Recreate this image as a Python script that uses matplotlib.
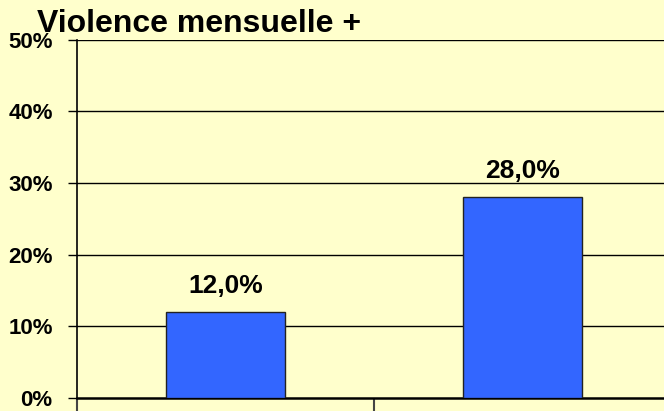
import matplotlib
matplotlib.use("Agg")
import matplotlib.pyplot as plt
from matplotlib.ticker import FuncFormatter

# chart data
categories = ["Groupe 1", "Groupe 2"]
values = [12.0, 28.0]
y_ticks = [0, 10, 20, 30, 40, 50]
title = "Violence mensuelle +"

bg = "#FFFFCC"
bar_color = "#3366FF"
font = ["Liberation Sans", "DejaVu Sans"]

fig = plt.figure(figsize=(6.64, 4.11), dpi=100, facecolor=bg)
ax = fig.add_axes([0.116, 0.0316, 0.8946, 0.872], facecolor=bg)

x = list(range(len(categories)))
ax.bar(x, values, width=0.40, color=bar_color, edgecolor="#222222", linewidth=1, zorder=3)

# grid lines
for t in y_ticks[1:]:
    ax.axhline(t, color="black", linewidth=1, zorder=1)

ax.set_xlim(-0.5, len(categories) - 0.5)
ax.set_ylim(0, 50)
ax.set_yticks(y_ticks)
ax.yaxis.set_major_formatter(FuncFormatter(lambda v, p: f"{v:.0f}%"))
for lab in ax.get_yticklabels():
    lab.set_family(font)
    lab.set_fontweight("bold")
    lab.set_fontsize(16)
ax.tick_params(axis="y", direction="out", length=6.5, width=1, pad=11)

ax.set_xticks([i - 0.5 for i in range(len(categories) + 1)])
ax.set_xticklabels([])
ax.tick_params(axis="x", direction="out", length=10, width=1.5, color="#444444")

for s in ["top", "right"]:
    ax.spines[s].set_visible(False)
ax.spines["left"].set_linewidth(1.2)
ax.spines["bottom"].set_linewidth(1.8)

# value labels
for xi, v in zip(x, values):
    ax.annotate(f"{v:.1f}%".replace(".", ","), (xi, v), xytext=(0, 14),
                textcoords="offset points", ha="center", va="baseline",
                fontsize=19, fontweight="bold", family=font)

fig.text(37 / 664, 1 - 32 / 411, title, ha="left", va="baseline",
         fontsize=23, fontweight="bold", family=font)

fig.savefig("out.png", dpi=100, facecolor=bg)
